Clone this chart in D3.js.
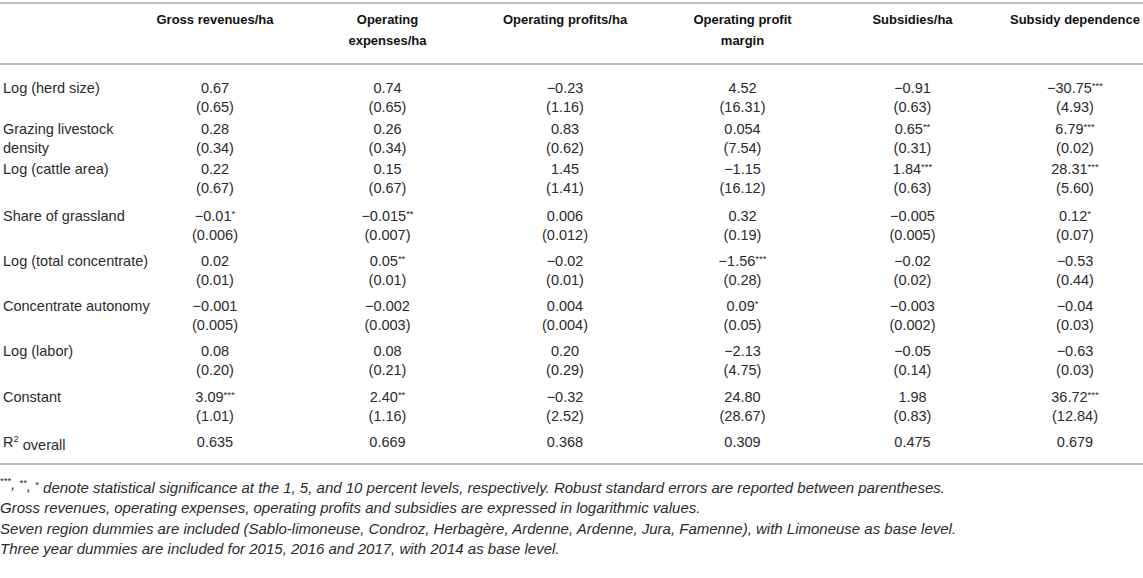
<!DOCTYPE html>
<html>

<head>
    <meta charset="utf-8">
    <title>Regression table</title>
    <script src="https://d3js.org/d3.v7.min.js"></script>
    <style>
        body {
            margin: 0;
            background: #fff;
        }

        text {
            font-family: "Liberation Sans", Arial, Helvetica, sans-serif;
            fill: #2b2b2b;
        }

        .head {
            font-weight: bold;
            font-size: 13px;
            fill: #111;
        }

        .cell {
            font-size: 14.5px;
        }

        .note {
            font-size: 15px;
            font-style: italic;
        }

        .rule {
            stroke: #bdbdbd;
            stroke-width: 2px;
        }
    </style>
</head>

<body>
    <div id="table"></div>

    <script>
        const width = 1143;
        const height = 578;

        // column headers (line breaks as in the printed table)
        const models = [
            ["Gross revenues/ha"],
            ["Operating", "expenses/ha"],
            ["Operating profits/ha"],
            ["Operating profit", "margin"],
            ["Subsidies/ha"],
            ["Subsidy dependence"]
        ];

        const variables = [
            ["Log (herd size)"],
            ["Grazing livestock", "density"],
            ["Log (cattle area)"],
            ["Share of grassland"],
            ["Log (total concentrate)"],
            ["Concentrate autonomy"],
            ["Log (labor)"],
            ["Constant"]
        ];

        // coefficients (stars after the number), one array per model
        const grossRevenues = ["0.67", "0.28", "0.22", "−0.01*", "0.02", "−0.001", "0.08", "3.09***"];
        const operatingExpenses = ["0.74", "0.26", "0.15", "−0.015**", "0.05**", "−0.002", "0.08", "2.40**"];
        const operatingProfits = ["−0.23", "0.83", "1.45", "0.006", "−0.02", "0.004", "0.20", "−0.32"];
        const profitMargin = ["4.52", "0.054", "−1.15", "0.32", "−1.56***", "0.09*", "−2.13", "24.80"];
        const subsidies = ["−0.91", "0.65**", "1.84***", "−0.005", "−0.02", "−0.003", "−0.05", "1.98"];
        const subsidyDependence = ["−30.75***", "6.79***", "28.31***", "0.12*", "−0.53", "−0.04", "−0.63", "36.72***"];

        // robust standard errors
        const seGross = ["0.65", "0.34", "0.67", "0.006", "0.01", "0.005", "0.20", "1.01"];
        const seExpenses = ["0.65", "0.34", "0.67", "0.007", "0.01", "0.003", "0.21", "1.16"];
        const seProfits = ["1.16", "0.62", "1.41", "0.012", "0.01", "0.004", "0.29", "2.52"];
        const seMargin = ["16.31", "7.54", "16.12", "0.19", "0.28", "0.05", "4.75", "28.67"];
        const seSubsidies = ["0.63", "0.31", "0.63", "0.005", "0.02", "0.002", "0.14", "0.83"];
        const seDependence = ["4.93", "0.02", "5.60", "0.07", "0.44", "0.03", "0.03", "12.84"];

        const rSquared = ["0.635", "0.669", "0.368", "0.309", "0.475", "0.679"];

        const notes = [
            " denote statistical significance at the 1, 5, and 10 percent levels, respectively. Robust standard errors are reported between parentheses.",
            "Gross revenues, operating expenses, operating profits and subsidies are expressed in logarithmic values.",
            "Seven region dummies are included (Sablo-limoneuse, Condroz, Herbagère, Ardenne, Ardenne, Jura, Famenne), with Limoneuse as base level.",
            "Three year dummies are included for 2015, 2016 and 2017, with 2014 as base level."
        ];

        const coefs = [grossRevenues, operatingExpenses, operatingProfits, profitMargin, subsidies, subsidyDependence];
        const ses = [seGross, seExpenses, seProfits, seMargin, seSubsidies, seDependence];

        // layout: column widths and row heights of the printed table
        const labelWidth = 130;
        const colWidths = [170, 175, 180, 175, 165, 160];
        const rowHeights = [41, 40, 47, 45, 45, 45, 46, 45];
        const firstRow = 88;
        const lineH = 19;

        const svg = d3.select("#table")
            .append("svg")
            .attr("width", width)
            .attr("height", height);

        const colStarts = [0, ...d3.cumsum(colWidths)].map(v => v + labelWidth);
        const x = d3.scaleOrdinal()
            .domain(d3.range(models.length))
            .range(colWidths.map((w, i) => colStarts[i] + w / 2));

        // rows: variables then R2
        const y = d3.scaleOrdinal()
            .domain(d3.range(variables.length + 1))
            .range([firstRow, ...d3.cumsum(rowHeights).map(v => v + firstRow)]);

        const bottomRule = y(variables.length) + 22;

        // rules
        [3, 64, bottomRule].forEach(yy => {
            svg.append("line").attr("class", "rule")
                .attr("x1", 0).attr("x2", width)
                .attr("y1", yy).attr("y2", yy);
        });

        // header
        models.forEach((lines, i) => {
            lines.forEach((t, k) => {
                svg.append("text").attr("class", "head")
                    .attr("x", x(i))
                    .attr("y", 19 + k * 21)
                    .attr("dy", "0.35em")
                    .attr("text-anchor", "middle")
                    .text(t);
            });
        });

        // split "−0.01*" into number and raised stars
        function putValue(g, str, xx, yy) {
            const m = str.match(/^(.*?)(\**)$/);
            const t = g.append("text").attr("class", "cell")
                .attr("x", xx).attr("y", yy)
                .attr("dy", "0.35em")
                .attr("text-anchor", "middle");
            t.append("tspan").text(m[1]);
            if (m[2]) {
                t.append("tspan")
                    .attr("font-size", "9.5px")
                    .attr("dy", "-0.45em")
                    .text(m[2]);
            }
        }

        variables.forEach((lines, r) => {
            lines.forEach((t, k) => {
                svg.append("text").attr("class", "cell")
                    .attr("x", 3)
                    .attr("y", y(r) + k * lineH)
                    .attr("dy", "0.35em")
                    .text(t);
            });
            coefs.forEach((col, i) => {
                putValue(svg, col[r], x(i), y(r));
                svg.append("text").attr("class", "cell")
                    .attr("x", x(i))
                    .attr("y", y(r) + lineH)
                    .attr("dy", "0.35em")
                    .attr("text-anchor", "middle")
                    .text(`(${ses[i][r]})`);
            });
        });

        // R2 row
        const rr = y(variables.length);
        const r2 = svg.append("text").attr("class", "cell")
            .attr("x", 3).attr("y", rr).attr("dy", "0.35em");
        r2.append("tspan").text("R");
        r2.append("tspan").attr("font-size", "9.5px").attr("dy", "-0.5em").text("2");
        r2.append("tspan").attr("dy", "0.5em").text(" overall");
        rSquared.forEach((v, i) => {
            svg.append("text").attr("class", "cell")
                .attr("x", x(i)).attr("y", rr)
                .attr("dy", "0.35em")
                .attr("text-anchor", "middle")
                .text(v);
        });

        // footnotes
        notes.forEach((t, k) => {
            const nt = svg.append("text").attr("class", "note")
                .attr("x", 0)
                .attr("y", bottomRule + 23 + k * 20.7)
                .attr("dy", "0.35em");
            if (k === 0) {
                ["***", "**", "*"].forEach((s, j) => {
                    nt.append("tspan").attr("font-size", "9.5px").attr("font-style", "normal")
                        .attr("dy", "-0.35em").text(s);
                    nt.append("tspan").attr("dy", "0.35em").text(j < 2 ? ", " : t);
                });
            } else {
                nt.text(t);
            }
        });
    </script>
</body>

</html>
